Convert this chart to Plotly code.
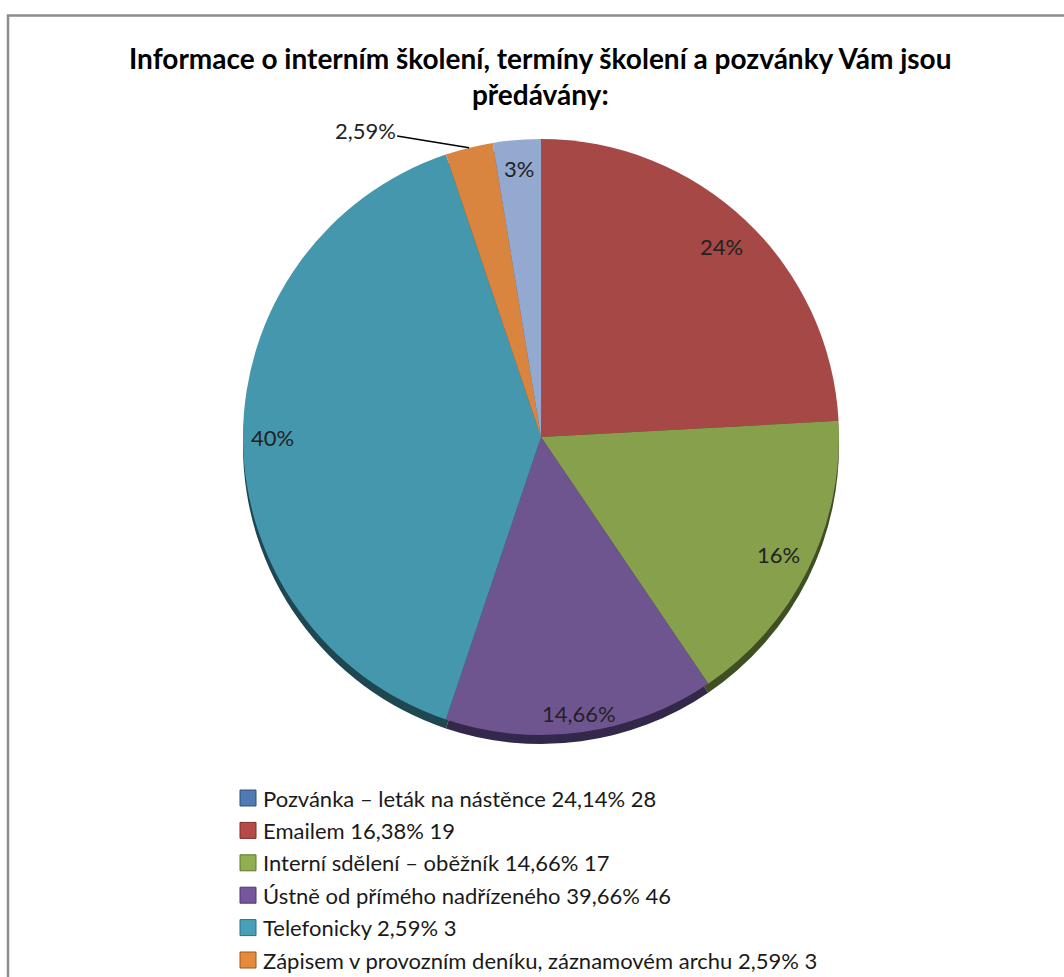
import numpy as np
import plotly.graph_objects as go

# ---- data ----
slice_values = [28, 19, 17, 46, 3, 3]
slice_labels = ["24%", "16%", "14,66%", "40%", "2,59%", "3%"]
legend_names = [
    "Pozvánka – leták na nástěnce 24,14% 28",
    "Emailem 16,38% 19",
    "Interní sdělení – oběžník 14,66% 17",
    "Ústně od přímého nadřízeného 39,66% 46",
    "Telefonicky 2,59% 3",
    "Zápisem v provozním deníku, záznamovém archu 2,59% 3",
]
title_lines = ["Informace o interním školení, termíny školení a pozvánky Vám jsou", "předávány:"]

# ---- styles ----
W, H = 1064, 977
slice_colors = ["#A54846", "#86A04C", "#6F5590", "#4597AD", "#D9853F", "#93A9CF"]
shadow_colors = ["#5A2624", "#3F4F22", "#33284A", "#1E4752", "#6E4019", "#4A5670"]
legend_colors = ["#4F7BB5", "#B54A48", "#8FAF50", "#7557A0", "#48A0B8", "#E68A3C"]
legend_edges = ["#2F4F7A", "#7A2E2C", "#5E7730", "#4C376B", "#2C6E80", "#A0581F"]
label_r = [0.88, 0.89, 0.935, 0.90, None, 0.905]
FONT = "Lato"

cx, cy, R = 541, 437, 298
shadow_dy = 9


def px_domain(cx_, cy_, r_):
    return dict(x=[(cx_ - r_) / W, (cx_ + r_) / W],
                y=[1 - (cy_ + r_) / H, 1 - (cy_ - r_) / H])


fig = go.Figure()
# 3D rim (shadow pie beneath)
fig.add_trace(go.Pie(values=slice_values, sort=False, direction="clockwise", rotation=0,
                     marker=dict(colors=shadow_colors, line=dict(width=0)),
                     textinfo="none", hoverinfo="skip", showlegend=False,
                     domain=px_domain(cx, cy + shadow_dy, R)))
fig.add_trace(go.Pie(values=slice_values, sort=False, direction="clockwise", rotation=0,
                     marker=dict(colors=slice_colors, line=dict(width=0)),
                     textinfo="none", hoverinfo="skip", showlegend=False,
                     domain=px_domain(cx, cy, R)))

# slice labels from data angles
vals = np.array(slice_values, dtype=float)
ends = np.cumsum(vals) / vals.sum() * 360.0
starts = ends - vals / vals.sum() * 360.0
mids = np.radians((starts + ends) / 2)
annotations = []
for lab, th, rf in zip(slice_labels, mids, label_r):
    if rf is None:
        px_ = cx + R * np.sin(th)
        py_ = cy - R * np.cos(th)
        annotations.append(dict(x=px_ / W, y=1 - py_ / H, xref="paper", yref="paper",
                                text=lab, showarrow=True, arrowhead=0, arrowwidth=1.6,
                                arrowcolor="#000000", ax=-104, ay=-17, standoff=0,
                                font=dict(family=FONT, size=22, color="#222222")))
    else:
        px_ = cx + rf * R * np.sin(th)
        py_ = cy - rf * R * np.cos(th)
        annotations.append(dict(x=px_ / W, y=1 - py_ / H, xref="paper", yref="paper",
                                text=lab, showarrow=False, xanchor="center", yanchor="middle",
                                font=dict(family=FONT, size=22, color="#222222")))

# title
annotations.append(dict(x=540 / W, y=1 - 76 / H, xref="paper", yref="paper",
                        text="<br>".join("<b>" + t + "</b>" for t in title_lines),
                        showarrow=False, xanchor="center", yanchor="middle",
                        font=dict(family=FONT, size=28, color="#000000")))

# legend
shapes = []
leg_x0, leg_y0, leg_step, sw = 240, 798, 32.4, 16
for i, (name, c, e) in enumerate(zip(legend_names, legend_colors, legend_edges)):
    yc = leg_y0 + i * leg_step
    shapes.append(dict(type="rect", xref="paper", yref="paper",
                       x0=leg_x0 / W, x1=(leg_x0 + sw) / W,
                       y0=1 - (yc + sw / 2) / H, y1=1 - (yc - sw / 2) / H,
                       fillcolor=c, line=dict(color=e, width=1)))
    annotations.append(dict(x=(leg_x0 + sw + 5) / W, y=1 - yc / H, xref="paper", yref="paper",
                            text=name, showarrow=False, xanchor="left", yanchor="middle",
                            font=dict(family=FONT, size=22, color="#1a1a1a")))

# chart frame
shapes.append(dict(type="rect", xref="paper", yref="paper",
                   x0=8 / W, x1=(W + 20) / W, y0=-20 / H, y1=1 - 15.5 / H,
                   line=dict(color="#8C8C8C", width=2.5), fillcolor="rgba(0,0,0,0)", layer="above"))

fig.update_layout(width=W, height=H, margin=dict(l=0, r=0, t=0, b=0),
                  paper_bgcolor="white", plot_bgcolor="white",
                  annotations=annotations, shapes=shapes, showlegend=False)
fig.write_html("out.html")
